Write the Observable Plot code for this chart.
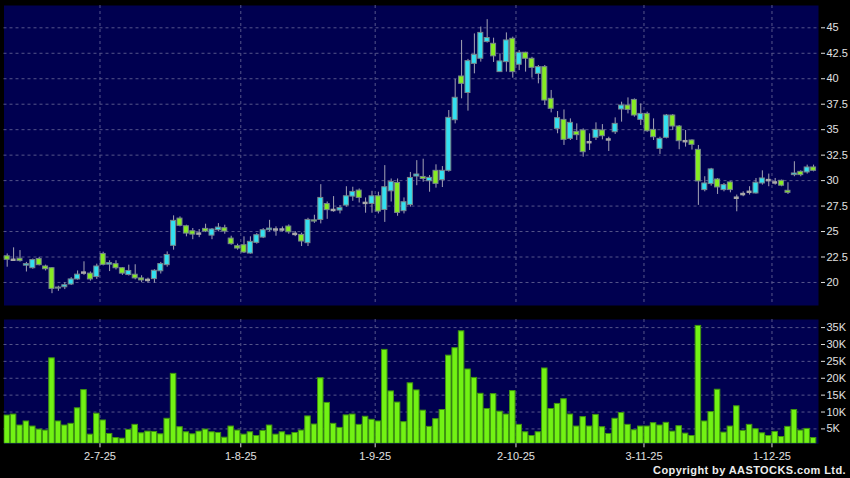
<!DOCTYPE html>
<html><head><meta charset="utf-8">
<script src="https://cdn.jsdelivr.net/npm/d3@7"></script>
<script src="https://cdn.jsdelivr.net/npm/@observablehq/plot@0.6"></script>
<style>
html,body{margin:0;padding:0;background:#000;}
#chart{position:relative;width:850px;height:478px;background:#000;overflow:hidden;font-family:"Liberation Sans",Arial,sans-serif;}
#chart svg{display:block;}
#copy{position:absolute;right:4px;top:464px;color:#ececec;font-size:11px;font-weight:bold;letter-spacing:0.4px;line-height:13px;}
</style></head><body><div id="chart"><div id="copy">Copyright by AASTOCKS.com Ltd.</div></div>
<script>
const open = [22.57,22.23,22.33,21.65,21.4,22.3,21.57,21.4,19.4,19.53, 19.8,20.3,20.97,20.87,20.53,22.8,21.75,21.8,21.4,20.73, 20.76,20.4,20.25,20.33,21.1,21.7,23.6,26.27,25.52,25.03, 24.8,25.26,24.6,25.13,25.33,24.31,23.56,23.66,22.84,23.89, 24.41,25.13,25.2,25.2,25.49,24.77,24.67,23.86,26.1,26.14, 27.7,27.12,27.06,27.55,28.43,29.02,27.81,27.71,28.46,27.12, 28.95,29.77,27.0,27.6,30.4,30.36,29.94,30.96,30.04,30.96, 35.93,40.22,38.6,41.46,41.96,43.6,43.43,40.65,41.63,43.92, 41.37,42.55,41.96,40.48,41.14,38.03,35.08,35.96,34.1,34.79, 34.92,33.77,34.2,34.92,34.04,34.75,36.98,37.37,37.92,35.96, 36.55,34.98,33.12,34.2,36.39,35.31,33.87,33.94,33.02,29.07, 29.66,30.11,29.07,29.82,28.32,28.68,28.9,28.74,29.72,30.05, 29.82,29.98,29.0,30.54,30.86,30.8,31.29];
const high = [22.8,23.4,23.13,21.97,22.3,22.47,21.7,21.47,19.63,19.97, 20.47,21.13,22.03,21.03,21.8,22.97,22.13,22.13,21.47,21.7, 21.74,20.66,20.43,21.25,21.97,23.0,26.54,26.44,25.62,25.3, 25.2,25.72,25.3,25.78,25.62,24.54,23.76,24.48,24.48,24.8, 25.29,26.1,25.46,25.45,25.65,25.0,24.84,26.3,26.6,29.6, 27.9,28.43,27.55,29.4,29.35,29.18,28.3,28.95,28.86,31.47, 30.16,30.16,28.3,30.8,31.96,32.1,30.5,31.55,31.38,36.88, 39.93,43.76,41.9,44.4,45.07,45.8,43.98,42.45,44.5,44.08, 42.77,42.6,42.1,41.3,41.3,38.85,36.78,36.94,36.06,35.57, 35.08,34.59,35.67,35.5,34.26,36.16,37.7,38.12,38.02,37.53, 36.72,36.06,34.26,36.49,36.49,35.41,34.92,34.0,33.45,30.38, 31.2,30.21,29.72,29.89,28.58,28.9,29.4,30.21,30.96,30.64, 30.21,30.05,29.79,31.85,30.96,31.52,31.52];
const low = [21.5,22.13,22.0,21.03,21.3,21.63,21.13,18.9,19.13,19.3, 19.7,20.23,20.7,20.13,20.3,21.63,21.07,21.23,20.7,20.63, 20.26,20.0,19.93,19.93,20.83,21.5,23.17,25.46,24.48,24.2, 24.4,24.9,24.2,24.97,24.74,23.66,23.17,22.84,22.78,23.76, 24.31,24.97,24.54,24.95,24.74,24.5,23.53,23.53,25.8,25.75, 26.2,26.9,26.73,27.4,27.97,27.8,26.8,26.8,26.73,25.9, 27.9,26.5,26.73,27.4,29.5,29.84,28.86,29.26,29.32,30.83, 35.57,38.03,36.82,40.48,41.63,43.5,41.6,40.65,40.65,40.06, 40.8,40.65,40.06,39.5,37.37,36.65,34.6,33.45,33.94,33.94, 32.3,32.96,33.94,34.0,32.86,34.53,35.74,36.55,36.23,35.41, 34.75,33.94,32.57,34.1,34.92,33.03,33.29,33.0,27.57,28.9, 29.46,28.64,28.9,28.8,26.94,28.42,28.58,28.68,29.56,29.4, 29.56,29.4,28.64,30.38,30.38,30.64,30.86];
const close = [22.23,22.23,22.1,21.8,22.2,21.7,21.3,19.37,19.5,19.73, 20.3,20.77,20.97,20.3,21.57,21.73,21.9,21.4,20.87,21.13, 20.4,20.2,20.25,21.15,21.81,22.7,26.05,25.56,24.8,24.7, 24.8,25.0,25.2,25.39,25.0,23.76,23.33,22.94,23.99,24.64, 25.13,25.29,25.2,25.2,24.93,24.77,24.02,26.14,25.98,28.3, 27.1,27.12,27.3,28.46,28.89,28.3,27.81,28.46,26.96,29.35, 29.87,26.83,27.88,30.26,30.6,30.16,30.27,29.68,30.96,36.16, 38.13,39.5,41.73,42.35,44.5,44.0,42.2,41.7,43.76,40.65, 42.55,41.96,41.07,41.14,37.86,37.05,36.13,34.0,35.67,34.46, 32.79,33.77,34.98,34.36,34.04,35.57,37.37,36.94,36.39,36.55, 34.85,34.26,34.1,36.39,35.31,33.87,33.87,33.51,29.92,29.72, 31.1,29.33,29.56,29.07,28.32,28.68,28.9,29.79,30.21,30.05, 29.82,29.5,28.8,30.7,30.54,31.29,30.96];
// volume in thousands
const volume = [8.96,9.25,6.0,7.2,5.7,4.8,4.5,25.9,7.2,6.0, 6.5,11.1,16.5,3.3,9.5,7.5,3.5,2.3,2.1,4.7, 6.2,3.7,4.2,4.1,3.4,8.0,21.3,5.5,4.0,3.4, 4.2,4.8,4.0,3.8,2.4,5.7,4.5,3.3,4.0,2.9, 4.4,6.0,3.3,4.0,3.1,3.8,4.5,8.7,6.3,20.0, 12.7,6.5,5.3,9.0,9.25,6.2,8.6,7.7,7.2,28.4, 16.1,12.8,7.0,18.5,16.4,10.4,5.6,7.9,10.6,26.7, 28.9,33.9,22.6,20.1,15.4,10.9,15.3,10.1,9.25,16.2, 6.2,4.0,2.9,4.0,22.9,10.9,12.4,13.8,9.25,5.7, 8.5,5.7,9.15,5.5,3.5,8.0,9.7,6.2,4.6,5.7, 5.7,6.7,6.0,6.8,4.2,5.8,3.6,2.9,35.5,7.2, 10.0,16.6,3.9,5.7,11.7,4.4,6.2,4.9,3.7,2.9, 4.1,2.6,5.6,10.6,4.5,5.0,2.3];
const monthStart = [15,37,58,80,100,120];
const monthLabels = ["2-7-25","1-8-25","1-9-25","2-10-25","3-11-25","1-12-25"];
const priceTicks = [20,22.5,25,27.5,30,32.5,35,37.5,40,42.5,45];
const volTicks = [5,10,15,20,25,30,35];

const n = open.length;
const candles = d3.range(n).map(i => ({i, o: open[i], h: high[i], l: low[i], c: close[i], v: volume[i]}));
const bodies = candles.filter(d => d.o !== d.c);
const dojis = candles.filter(d => d.o === d.c);
const gridX = monthStart.map(i => i - 0.5);
const PANEL = "#000050", GRID = "#55558a", UP = "#33e0f0", DOWN = "#86ec22";
const DASH = "3,3";
const style = {background: "transparent", color: "#e0e0e0", fontFamily: "Liberation Sans, Arial, sans-serif", fontSize: "11px", overflow: "visible"};
const xScale = {type: "linear", domain: [-0.5, n - 0.23], axis: null};
const VMIN = 0.59;

const price = Plot.plot({
  width: 850, height: 310, marginTop: 5, marginBottom: 5, marginLeft: 3.5, marginRight: 32,
  style, x: xScale, y: {domain: [17.74, 47.19], axis: null}, color: {type: "identity"},
  marks: [
    Plot.frame({fill: PANEL, stroke: null}),
    Plot.ruleY(priceTicks, {stroke: GRID, strokeDasharray: DASH}),
    Plot.ruleX(gridX, {stroke: GRID, strokeDasharray: DASH}),
    Plot.ruleX(candles, {x: "i", y1: "l", y2: "h", stroke: "#a4a4b4"}),
    Plot.rect(bodies, {x1: d => d.i - 0.39, x2: d => d.i + 0.39, y1: "o", y2: "c", fill: d => d.c > d.o ? UP : DOWN, stroke: "#76868c"}),
    Plot.ruleY(dojis, {y: "o", x1: d => d.i - 0.39, x2: d => d.i + 0.39, stroke: "#a8a8a8", strokeWidth: 2.5}),
    Plot.axisY({ticks: priceTicks, anchor: "right", tickSize: 4, tickPadding: 2, dx: 2, tickFormat: d => String(d), label: null})
  ]
});

const vol = Plot.plot({
  width: 850, height: 168, marginTop: 9, marginBottom: 34.7, marginLeft: 3.5, marginRight: 32,
  style, x: xScale, y: {domain: [VMIN, 37.4], axis: null},
  marks: [
    Plot.frame({fill: PANEL, stroke: null}),
    Plot.ruleY(volTicks, {stroke: GRID, strokeDasharray: DASH}),
    Plot.ruleX(gridX, {stroke: GRID, strokeDasharray: DASH}),
    Plot.rect(candles, {x1: d => d.i - 0.43, x2: d => d.i + 0.43, y1: () => VMIN, y2: "v", fill: "#72f214", stroke: "#3f9410", clip: true}),
    Plot.axisY({ticks: volTicks, anchor: "right", tickSize: 4, tickPadding: 2, dx: 2, tickFormat: d => d + "K", label: null}),
    Plot.axisX({ticks: gridX, anchor: "bottom", tickSize: 4, tickPadding: 4, tickFormat: d => monthLabels[gridX.indexOf(d)], label: null, fontSize: 11})
  ]
});

const chart = document.getElementById("chart");
chart.insertBefore(vol, chart.firstChild);
chart.insertBefore(price, vol);
</script></body></html>
